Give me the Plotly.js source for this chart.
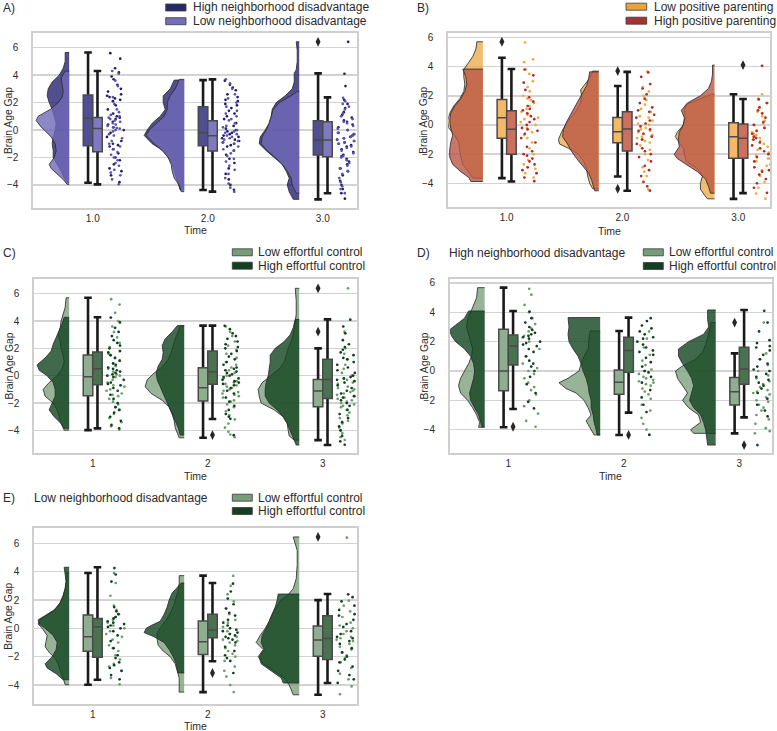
<!DOCTYPE html>
<html><head><meta charset="utf-8">
<script src="https://cdn.plot.ly/plotly-3.0.1.min.js"></script>
<style>html,body{margin:0;padding:0;background:#fff}#chart{width:777px;height:731px}</style>
</head><body><div id="chart"></div>
<script>
// ================= DATA =================
const timeLabelsAB = ['1.0', '2.0', '3.0'];
const timeLabelsCDE = ['1', '2', '3'];
const yTicks = [-4, -2, 0, 2, 4, 6];

// ---- Panel A : neighborhood disadvantage (High, Low) ----
const A_names = ['High neighborhood disadvantage', 'Low neighborhood disadvantage'];
// box stats per time: [lowerWhisker, q1, median, q3, upperWhisker]
const A_box_high = [[-3.84, -1.14, 0.85, 2.55, 5.65], [-4.37, -1.14, -0.19, 1.70, 3.64], [-5.05, -1.82, -0.73, 0.68, 4.13]];
const A_box_low = [[-3.96, -1.58, 0.12, 0.92, 4.30], [-4.49, -1.53, -0.41, 0.68, 3.69], [-4.60, -1.94, -0.73, 0.61, 2.38]];
const A_out_high = [[2, 6.43]];
const A_out_low = [];
// half-violin density profiles per time: [value, density]
const A_vio_high = [
  [[5.65,4],[5,4],[4.5,6],[4,10],[3.5,17],[3,21],[2.5,22],[2,20],[1.5,17],[1,15],[0.5,13],[0,14],[-0.5,16],[-1,17],[-1.5,16],[-2,16],[-2.5,12],[-3,8],[-3.5,5],[-3.84,2]],
  [[3.64,10],[3,14],[2.5,21],[2,21],[1.5,19],[1,24],[0.5,32],[0,37],[-0.4,40],[-1,32],[-1.5,21],[-2,16],[-2.5,12],[-3,10],[-3.5,8],[-4,6],[-4.37,4]],
  [[6.43,3],[5.8,2],[5,2],[4.4,3],[4.13,5],[3.5,5],[3,7],[2.5,14],[2,23],[1.5,27],[1,28],[0.5,30],[0,34],[-0.5,39],[-1,40],[-1.5,33],[-2,25],[-2.5,17],[-3,13],[-3.5,10],[-4,12],[-4.5,10],[-5.05,6]]
];
const A_vio_low = [
  [[4.3,4],[3.8,8],[3.3,7],[2.8,6],[2.4,7],[2,11],[1.5,19],[1,31],[0.7,33],[0.3,29],[0,25],[-0.5,18],[-1,14],[-1.5,13],[-2,15],[-2.5,20],[-2.8,18],[-3.2,12],[-3.6,6],[-3.96,2]],
  [[3.69,5],[3,9],[2.5,14],[2,17],[1.5,17],[1,20],[0.5,27],[0,35],[-0.4,38],[-1,30],[-1.5,22],[-2,16],[-2.5,13],[-3,12],[-3.5,10],[-4,5],[-4.49,3]],
  [[2.8,2],[2.5,8],[2,20],[1.5,26],[1,28],[0.5,30],[0,33],[-0.5,37],[-1,38],[-1.5,32],[-2,24],[-2.5,17],[-3,12],[-3.5,8],[-4,7],[-4.6,3]]
];
const A_pts_high = [
  [5.6,5.2,4.5,4.2,3.9,3.7,3.3,3.0,2.8,2.6,2.5,2.4,2.3,2.2,2.1,1.8,1.5,1.2,1.0,0.9,0.8,0.6,0.4,0.2,0.0,-0.2,-0.5,-0.8,-1.0,-1.1,-1.2,-1.4,-1.7,-2.0,-2.2,-2.5,-2.8,-3.0,-3.3,-3.8],
  [3.6,3.3,3.1,2.9,2.6,2.4,2.2,2.1,1.9,1.8,1.6,1.4,1.2,1.0,0.8,0.5,0.3,0.1,0.0,-0.1,-0.2,-0.3,-0.4,-0.5,-0.6,-0.7,-0.8,-0.9,-1.0,-1.1,-1.2,-1.5,-1.8,-2.1,-2.4,-2.8,-3.2,-3.6,-4.0,-4.35],
  [6.43,4.1,3.2,2.2,1.9,1.6,1.3,1.1,0.9,0.7,0.6,0.4,0.2,0.0,-0.2,-0.3,-0.4,-0.5,-0.6,-0.7,-0.8,-0.9,-1.0,-1.1,-1.2,-1.4,-1.6,-1.8,-1.9,-2.1,-2.3,-2.5,-2.8,-3.0,-3.3,-3.7,-4.0,-4.3,-4.6,-5.0]
];
const A_pts_low = [
  [4.3,4.1,3.6,3.2,2.4,1.9,1.5,1.3,1.1,1.0,0.9,0.8,0.7,0.6,0.5,0.4,0.3,0.2,0.15,0.1,0.0,-0.1,-0.3,-0.4,-0.6,-0.8,-1.0,-1.2,-1.4,-1.6,-1.8,-2.0,-2.2,-2.4,-2.6,-2.9,-3.1,-3.3,-3.6,-3.95],
  [3.7,3.4,3.0,2.6,2.3,2.0,1.7,1.4,1.2,1.0,0.8,0.7,0.5,0.3,0.2,0.0,-0.1,-0.2,-0.3,-0.4,-0.5,-0.6,-0.7,-0.8,-0.9,-1.0,-1.2,-1.4,-1.5,-1.7,-1.9,-2.1,-2.3,-2.6,-2.9,-3.2,-3.5,-3.9,-4.2,-4.5],
  [2.35,2.1,1.9,1.7,1.5,1.2,1.0,0.8,0.6,0.5,0.3,0.1,0.0,-0.2,-0.3,-0.4,-0.5,-0.6,-0.7,-0.8,-0.9,-1.0,-1.2,-1.3,-1.5,-1.7,-1.9,-2.0,-2.2,-2.4,-2.6,-2.8,-3.0,-3.2,-3.5,-3.8,-4.1,-4.3,-4.6]
];

// ---- Panel B : positive parenting (Low, High) ----
const B_names = ['Low positive parenting', 'High positive parenting'];
const B_box_low = [[-3.64, -0.91, 0.50, 1.75, 4.60], [-3.53, -1.21, -0.46, 0.52, 2.67], [-5.06, -2.28, -0.80, 0.16, 2.10]];
const B_box_high = [[-3.87, -2.00, -0.30, 0.98, 3.83], [-4.51, -1.78, -0.27, 0.91, 3.64], [-4.67, -2.28, -0.91, 0.07, 1.78]];
const B_out_low = [[0, 5.7], [1, 3.69], [1, -4.37]];
const B_out_high = [[2, 4.1]];
const B_vio_low = [
  [[5.7,6],[5.2,7],[4.7,10],[4.2,15],[3.8,19],[3.3,19],[2.8,18],[2.3,19],[1.8,23],[1.3,29],[0.8,33],[0.3,35],[-0.2,34],[-0.7,28],[-1.2,24],[-1.7,23],[-2.2,22],[-2.7,20],[-3.2,15],[-3.64,10]],
  [[3.69,6],[3.2,9],[2.7,15],[2.4,18],[2,17],[1.5,18],[1,22],[0.5,28],[0,33],[-0.5,37],[-1,40],[-1.3,39],[-1.6,30],[-2,20],[-2.5,15],[-3,12],[-3.5,11],[-4,9],[-4.37,6]],
  [[2.1,3],[1.8,14],[1.4,28],[1,30],[0.5,29],[0,31],[-0.5,37],[-0.8,39],[-1.2,35],[-1.6,31],[-2,30],[-2.5,28],[-3,17],[-3.5,12],[-4,14],[-4.4,14],[-4.8,10],[-5.06,7]]
];
const B_vio_high = [
  [[3.83,20],[3.3,17],[2.8,16],[2.3,18],[1.8,22],[1.3,28],[0.8,32],[0.3,33],[-0.2,32],[-0.7,30],[-1.2,32],[-1.7,33],[-2.2,33],[-2.7,30],[-3.2,22],[-3.6,14],[-3.87,12]],
  [[3.64,9],[3.2,10],[2.7,12],[2.2,16],[1.7,20],[1.2,24],[0.7,28],[0.2,32],[-0.3,35],[-0.8,36],[-1.3,31],[-1.8,27],[-2.3,22],[-2.8,16],[-3.3,10],[-3.8,7],[-4.51,4]],
  [[4.1,2],[3.5,2],[3,3],[2.5,6],[2,14],[1.5,27],[1,33],[0.5,30],[0,31],[-0.5,35],[-1,36],[-1.5,35],[-2,40],[-2.3,37],[-2.7,28],[-3.2,17],[-3.7,9],[-4.2,6],[-4.67,4]]
];
const B_pts_low = [
  [5.65,4.5,4.3,3.8,3.5,3.0,2.6,2.3,2.0,1.8,1.7,1.5,1.3,1.1,0.9,0.7,0.5,0.4,0.2,0.0,-0.2,-0.5,-0.7,-0.9,-1.2,-1.6,-2.0,-2.4,-2.7,-3.0,-3.3,-3.6],
  [3.65,2.6,2.3,2.0,1.7,1.4,1.1,0.9,0.6,0.5,0.3,0.1,0.0,-0.2,-0.3,-0.4,-0.5,-0.6,-0.7,-0.8,-0.9,-1.0,-1.1,-1.2,-1.4,-1.7,-2.0,-2.4,-2.9,-3.2,-3.5,-4.4],
  [2.1,1.8,1.5,1.2,0.9,0.6,0.3,0.1,0.0,-0.2,-0.4,-0.5,-0.6,-0.7,-0.8,-0.9,-1.0,-1.1,-1.3,-1.5,-1.7,-1.9,-2.1,-2.3,-2.5,-2.8,-3.1,-3.5,-3.9,-4.3,-4.7,-5.05]
];
const B_pts_high = [
  [3.8,3.4,2.9,2.4,1.9,1.6,1.3,1.1,1.0,0.8,0.6,0.4,0.2,0.0,-0.2,-0.3,-0.4,-0.6,-0.9,-1.2,-1.5,-1.8,-2.0,-2.1,-2.3,-2.5,-2.7,-2.9,-3.1,-3.3,-3.6,-3.85],
  [3.6,3.3,2.8,2.5,2.1,1.8,1.5,1.2,1.0,0.9,0.7,0.5,0.3,0.1,-0.1,-0.3,-0.4,-0.6,-0.8,-1.0,-1.3,-1.6,-1.8,-2.0,-2.2,-2.5,-2.8,-3.1,-3.5,-3.9,-4.2,-4.5],
  [4.05,1.75,1.5,1.2,1.0,0.8,0.5,0.2,0.0,-0.2,-0.4,-0.6,-0.8,-0.9,-1.0,-1.2,-1.4,-1.6,-1.8,-2.0,-2.2,-2.3,-2.5,-2.7,-2.9,-3.1,-3.2,-3.4,-3.7,-4.0,-4.3,-4.65]
];

// ---- Panels C, D, E : effortful control (Low, High) ----
const EC_names = ['Low effortful control', 'High effortful control'];
// C: all
const C_box_low = [[-3.98, -1.46, -0.07, 1.51, 5.70], [-4.54, -1.85, -0.88, 0.59, 3.66], [-4.71, -2.27, -1.12, -0.27, 2.00]];
const C_box_high = [[-3.85, -0.66, 0.51, 1.73, 4.27], [-3.17, -0.63, 0.29, 1.80, 3.66], [-5.07, -1.66, -0.27, 1.20, 4.12]];
const C_out_low = [[2, 3.22], [2, 6.39]];
const C_out_high = [[1, -4.34]];
const C_vio_low = [
  [[5.7,3],[5,4],[4.5,6],[4,8],[3.5,9],[3,11],[2.5,9],[2,8],[1.5,6],[1,5],[0.5,7],[0,12],[-0.5,20],[-1,26],[-1.5,24],[-2,16],[-2.5,12],[-3,10],[-3.5,8],[-3.98,5]],
  [[3.66,4],[3.2,6],[2.7,9],[2.2,11],[1.7,13],[1.2,16],[0.7,21],[0.2,30],[-0.3,37],[-0.8,39],[-1.3,33],[-1.8,22],[-2.3,15],[-2.8,12],[-3.3,10],[-3.8,9],[-4.2,7],[-4.54,5]],
  [[6.39,4],[5.5,3],[4.5,3],[4,4],[3.5,5],[3,6],[2.5,8],[2,11],[1.5,13],[1,15],[0.5,20],[0,28],[-0.5,37],[-1,41],[-1.5,40],[-2,38],[-2.5,25],[-3,16],[-3.5,12],[-4,11],[-4.4,10],[-4.71,5]]
];
const C_vio_high = [
  [[4.27,5],[3.8,7],[3.3,10],[2.8,13],[2.3,16],[1.8,18],[1.3,24],[0.8,32],[0.4,30],[0,22],[-0.5,16],[-1,14],[-1.5,14],[-2,17],[-2.5,20],[-3,15],[-3.5,8],[-3.85,5]],
  [[3.66,7],[3.2,12],[2.7,19],[2.2,22],[1.7,21],[1.2,22],[0.7,26],[0.2,28],[-0.3,27],[-0.8,24],[-1.3,21],[-1.8,18],[-2.3,15],[-2.8,12],[-3.3,9],[-3.8,6],[-4.34,4]],
  [[4.12,4],[3.5,6],[3,9],[2.5,15],[2,24],[1.5,29],[1,29],[0.5,30],[0,31],[-0.5,33],[-1,34],[-1.5,34],[-2,30],[-2.5,22],[-3,16],[-3.5,12],[-4,9],[-4.5,6],[-5.07,3]]
];
const C_pts_low = [
  [5.6,5.2,4.6,4.0,3.6,3.2,2.8,2.4,2.1,1.8,1.6,1.5,1.3,1.1,0.9,0.7,0.5,0.3,0.1,0.0,-0.1,-0.3,-0.5,-0.7,-0.8,-1.0,-1.1,-1.3,-1.4,-1.5,-1.7,-1.9,-2.1,-2.3,-2.5,-2.8,-3.1,-3.4,-3.7,-3.95],
  [3.6,3.2,2.9,2.5,2.2,1.9,1.6,1.3,1.0,0.8,0.6,0.4,0.2,0.0,-0.2,-0.4,-0.5,-0.6,-0.7,-0.8,-0.9,-1.0,-1.1,-1.2,-1.3,-1.4,-1.5,-1.6,-1.8,-1.9,-2.1,-2.3,-2.6,-2.9,-3.2,-3.5,-3.8,-4.1,-4.3,-4.5],
  [6.39,3.22,2.0,1.6,1.2,0.8,0.5,0.2,0.0,-0.2,-0.3,-0.5,-0.6,-0.8,-0.9,-1.0,-1.1,-1.2,-1.3,-1.4,-1.5,-1.6,-1.7,-1.8,-1.9,-2.0,-2.1,-2.2,-2.3,-2.5,-2.7,-2.9,-3.1,-3.3,-3.5,-3.8,-4.0,-4.2,-4.5,-4.7]
];
const C_pts_high = [
  [4.25,3.9,3.5,3.2,2.9,2.6,2.4,2.2,2.0,1.8,1.7,1.5,1.3,1.1,0.9,0.8,0.6,0.5,0.4,0.3,0.2,0.1,0.0,-0.1,-0.3,-0.5,-0.6,-0.7,-0.9,-1.1,-1.4,-1.7,-2.0,-2.3,-2.5,-2.7,-3.0,-3.3,-3.6,-3.85],
  [3.65,3.4,3.1,2.9,2.7,2.5,2.3,2.1,2.0,1.8,1.6,1.4,1.2,1.0,0.8,0.6,0.5,0.4,0.3,0.2,0.1,0.0,-0.1,-0.2,-0.3,-0.4,-0.5,-0.6,-0.7,-0.9,-1.1,-1.3,-1.6,-1.9,-2.2,-2.5,-2.8,-3.0,-3.15,-4.35],
  [4.1,3.6,3.1,2.6,2.3,2.1,1.9,1.7,1.5,1.3,1.2,1.0,0.8,0.6,0.4,0.2,0.0,-0.1,-0.2,-0.3,-0.4,-0.5,-0.7,-0.9,-1.1,-1.3,-1.5,-1.6,-1.8,-2.0,-2.2,-2.5,-2.8,-3.1,-3.4,-3.7,-4.0,-4.4,-4.8,-5.05]
];

// D: high neighborhood disadvantage
const D_subtitle = 'High neighborhood disadvantage';
const D_box_low = [[-3.84, -1.34, 0.00, 2.84, 5.68], [-4.36, -1.59, -0.77, 0.07, 2.73], [-4.25, -2.32, -1.41, -0.45, 1.20]];
const D_box_high = [[-2.59, 0.41, 1.70, 2.45, 4.09], [-2.84, -0.09, 1.39, 2.30, 3.64], [-3.16, -0.91, 0.14, 1.61, 4.16]];
const D_out_low = [[2, 3.3]];
const D_out_high = [[0, -3.8], [1, -4.36], [2, -5.05]];
const D_vio_low = [
  [[5.68,7],[5,8],[4.5,11],[4,14],[3.5,17],[3,18],[2.5,16],[2,14],[1.5,12],[1,13],[0.5,16],[0,20],[-0.5,24],[-1,26],[-1.5,24],[-2,17],[-2.5,12],[-3,8],[-3.5,5],[-3.84,6]],
  [[2.73,10],[2.3,11],[1.5,12],[1,16],[0.5,19],[0,21],[-0.5,32],[-0.8,41],[-1.2,34],[-1.5,24],[-2,16],[-2.5,12],[-3,9],[-3.4,14],[-3.8,11],[-4.36,6]],
  [[3.3,5],[2.8,6],[2.3,8],[1.8,10],[1.3,13],[0.8,20],[0.3,34],[0,40],[-0.5,38],[-1,33],[-1.5,28],[-2,33],[-2.5,27],[-3,17],[-3.5,15],[-4,25],[-4.25,22]]
];
const D_vio_high = [
  [[4.09,16],[3.6,20],[3.2,27],[2.8,35],[2.4,33],[2,29],[1.5,20],[1,14],[0.5,11],[0,10],[-0.5,11],[-1,13],[-1.5,15],[-2,14],[-2.5,10],[-3,6],[-3.5,4],[-3.8,3]],
  [[3.64,32],[3,31],[2.5,32],[2,31],[1.5,27],[1,22],[0.5,19],[0,17],[-0.5,14],[-1,12],[-1.5,11],[-2,9],[-2.5,9],[-3,7],[-3.5,6],[-4,4],[-4.36,3]],
  [[4.16,8],[3.5,8],[3,7],[2.5,12],[2,27],[1.5,37],[1,37],[0.5,33],[0,28],[-0.5,24],[-1,22],[-1.5,24],[-2,26],[-2.5,22],[-3,15],[-3.5,12],[-4,10],[-4.5,9],[-5.05,8]]
];
const D_pts_low = [
  [5.6,5.2,4.5,4.0,3.6,3.2,2.9,2.7,2.4,2.0,1.5,1.0,0.5,0.2,0.0,-0.2,-0.5,-0.8,-1.1,-1.3,-1.6,-2.0,-2.4,-2.9,-3.4,-3.8],
  [2.7,2.2,1.6,1.1,0.7,0.4,0.1,0.0,-0.2,-0.4,-0.5,-0.6,-0.7,-0.8,-0.9,-1.0,-1.2,-1.4,-1.6,-1.9,-2.3,-2.7,-3.2,-3.6,-4.0,-4.35],
  [3.3,1.2,0.8,0.4,0.0,-0.3,-0.5,-0.7,-0.9,-1.1,-1.3,-1.4,-1.5,-1.6,-1.8,-2.0,-2.1,-2.3,-2.5,-2.7,-3.0,-3.3,-3.6,-3.9,-4.1,-4.25]
];
const D_pts_high = [
  [4.05,3.6,3.3,3.0,2.8,2.6,2.5,2.4,2.3,2.2,2.0,1.9,1.8,1.7,1.5,1.3,1.0,0.7,0.5,0.3,0.0,-0.4,-0.9,-1.5,-2.1,-2.55],
  [3.6,3.4,3.1,2.9,2.7,2.5,2.3,2.2,2.0,1.8,1.6,1.4,1.3,1.1,0.9,0.6,0.3,0.0,-0.1,-0.4,-0.8,-1.3,-1.8,-2.3,-2.8,-4.35],
  [4.1,3.3,2.7,2.1,1.9,1.7,1.6,1.4,1.1,0.8,0.5,0.3,0.1,0.0,-0.2,-0.4,-0.6,-0.8,-1.0,-1.2,-1.5,-1.9,-2.3,-2.7,-3.1,-5.05]
];

// E: low neighborhood disadvantage
const E_subtitle = 'Low neighborhood disadvantage';
const E_box_low = [[-3.98, -1.61, -0.59, 0.95, 3.91], [-4.50, -1.85, -0.95, 0.52, 3.72], [-4.69, -1.97, -0.83, 0.17, 1.99]];
const E_box_high = [[-3.63, -2.04, 0.12, 0.69, 4.31], [-2.32, -0.66, -0.12, 1.00, 3.20], [-3.86, -2.20, -0.71, 0.88, 2.42]];
const E_out_low = [[2, 6.45]];
const E_out_high = [[1, -3.15]];
const E_vio_low = [
  [[3.91,3],[3.3,3],[2.8,4],[2.3,6],[1.8,9],[1.3,14],[0.9,22],[0.6,29],[0.3,31],[0,27],[-0.5,22],[-1,23],[-1.3,24],[-1.7,20],[-2.1,14],[-2.5,11],[-3,9],[-3.5,6],[-3.98,4]],
  [[3.72,5],[3.2,5],[2.7,6],[2.2,8],[1.7,10],[1.2,13],[0.7,17],[0.2,22],[-0.3,27],[-0.8,27],[-1.2,26],[-1.6,21],[-2,14],[-2.5,9],[-3,7],[-3.5,5],[-4,5],[-4.5,5]],
  [[6.45,6],[5.5,2],[4.5,2],[3.5,3],[2.8,6],[2.3,12],[2,18],[1.5,23],[1,27],[0.5,30],[0,34],[-0.5,39],[-1,43],[-1.5,36],[-2,41],[-2.5,36],[-3,25],[-3.5,15],[-4,10],[-4.69,6]]
];
const E_vio_high = [
  [[4.31,5],[3.8,4],[3.3,3],[2.8,4],[2.3,6],[1.8,9],[1.3,15],[0.9,24],[0.6,31],[0.3,30],[0,24],[-0.5,16],[-1,12],[-1.5,13],[-2,17],[-2.5,24],[-2.8,22],[-3.2,13],[-3.63,6]],
  [[3.2,3],[2.8,8],[2.5,12],[2,15],[1.5,17],[1,20],[0.5,24],[0.2,33],[0,38],[-0.3,40],[-0.6,30],[-1,20],[-1.5,15],[-2,11],[-2.5,8],[-3.15,6]],
  [[2.42,21],[2,22],[1.5,24],[1,27],[0.5,30],[0,33],[-0.5,37],[-1,38],[-1.5,35],[-2,40],[-2.5,38],[-3,28],[-3.5,18],[-3.86,16]]
];
const E_pts_low = [
  [3.9,3.2,2.3,1.6,1.3,1.0,0.8,0.6,0.4,0.2,0.0,-0.2,-0.4,-0.6,-0.8,-1.0,-1.2,-1.4,-1.6,-1.9,-2.2,-2.5,-2.7,-3.0,-3.5,-3.95],
  [3.7,3.0,2.4,1.9,1.4,1.0,0.6,0.4,0.1,-0.2,-0.4,-0.6,-0.8,-0.9,-1.0,-1.2,-1.4,-1.6,-1.8,-2.0,-2.3,-2.7,-3.0,-3.4,-4.0,-4.5],
  [6.4,1.95,1.6,1.2,0.8,0.4,0.2,0.0,-0.2,-0.4,-0.6,-0.7,-0.8,-0.9,-1.1,-1.3,-1.5,-1.7,-1.9,-2.1,-2.4,-2.8,-3.2,-3.6,-4.1,-4.65]
];
const E_pts_high = [
  [4.25,3.8,3.3,1.5,1.2,1.0,0.8,0.7,0.5,0.4,0.3,0.2,0.1,0.0,-0.2,-0.5,-0.9,-1.4,-1.9,-2.1,-2.4,-2.6,-2.8,-3.0,-3.3,-3.6],
  [3.15,2.6,2.1,1.7,1.4,1.1,0.9,0.6,0.4,0.2,0.0,-0.1,-0.2,-0.3,-0.4,-0.5,-0.6,-0.7,-0.8,-1.0,-1.3,-1.6,-1.9,-2.1,-2.3,-3.15],
  [2.4,2.2,1.9,1.6,1.3,1.0,0.9,0.6,0.3,0.1,-0.2,-0.4,-0.6,-0.7,-0.9,-1.1,-1.4,-1.7,-2.0,-2.2,-2.4,-2.7,-3.0,-3.3,-3.6,-3.85]
];

// ================= STYLE / LAYOUT =================
const W = 777, H = 731;
const FONT = 'Liberation Sans, Arial, Helvetica, sans-serif';
const TXT = '#2b2b2b';
const VIO_EDGE = -0.205, BOX_OFF = 0.041, BOX_W = 0.083, WHISK_W = 0.066, PTS_OFF = 0.2, PTS_W = 0.17, DENS = 1 / 115;

const PAL_A = {vio: ['rgba(34,28,110,0.78)', 'rgba(111,105,185,0.8)'], box: ['#524e92', '#7f7ac0'], pts: ['#221d6b', '#5953aa'], sw: ['#2a2766', '#7570bb']};
const PAL_B = {vio: ['rgba(236,174,79,0.8)', 'rgba(186,86,69,0.8)'], box: ['#f4b866', '#cd6f5f'], pts: ['#ecaa3c', '#b3262a'], sw: ['#e9a43c', '#a83232']};
const PAL_G = {vio: ['rgba(125,161,125,0.8)', 'rgba(18,67,31,0.8)'], box: ['#8fae8f', '#4a7150'], pts: ['#6b9d6b', '#0f3f1e'], sw: ['#789c78', '#143f22']};

const px = x => x / W, py = y => 1 - y / H;

function violin(prof, color, xa, ya) {
  const xs = [], ys = [];
  prof.forEach((p, t) => {
    const edge = t + VIO_EDGE;
    xs.push(edge); ys.push(p[0][0]);
    p.forEach(([v, d]) => { xs.push(edge - d * DENS); ys.push(v); });
    xs.push(edge); ys.push(p[p.length - 1][0]);
    xs.push(null); ys.push(null);
  });
  return {type: 'scatter', mode: 'lines', x: xs, y: ys, fill: 'toself', fillcolor: color,
    line: {color: 'rgba(45,45,45,0.85)', width: 1}, xaxis: xa, yaxis: ya, hoverinfo: 'skip', showlegend: false};
}
function whiskers(stats, off, xa, ya) {
  return {type: 'box', x: stats.map((s, t) => t + off), q1: stats.map(s => s[2]), median: stats.map(s => s[2]),
    q3: stats.map(s => s[2]), lowerfence: stats.map(s => s[0]), upperfence: stats.map(s => s[4]),
    width: WHISK_W, whiskerwidth: 1, fillcolor: 'rgba(0,0,0,0)', line: {color: '#1a1a1a', width: 2.6},
    boxpoints: false, xaxis: xa, yaxis: ya, hoverinfo: 'skip', showlegend: false};
}
function boxes(stats, off, color, xa, ya) {
  return {type: 'box', x: stats.map((s, t) => t + off), q1: stats.map(s => s[1]), median: stats.map(s => s[2]),
    q3: stats.map(s => s[3]), lowerfence: stats.map(s => s[1]), upperfence: stats.map(s => s[3]),
    width: BOX_W, whiskerwidth: 0, fillcolor: color, line: {color: '#4a4a4a', width: 1.5},
    boxpoints: false, xaxis: xa, yaxis: ya, hoverinfo: 'skip', showlegend: false};
}
function outliers(list, off, xa, ya) {
  return {type: 'scatter', mode: 'markers', x: list.map(o => o[0] + off), y: list.map(o => o[1]),
    marker: {symbol: 'diamond-tall', size: 7, color: '#262626'}, xaxis: xa, yaxis: ya, hoverinfo: 'skip', showlegend: false};
}
function strip(pts, color, xa, ya) {
  const xs = [], ys = [];
  pts.forEach((vals, t) => vals.forEach(v => { xs.push(t + PTS_OFF); ys.push(v); }));
  return {type: 'box', x: xs, y: ys, width: PTS_W, boxpoints: 'all', jitter: 1, pointpos: 0,
    fillcolor: 'rgba(0,0,0,0)', line: {width: 0, color: 'rgba(0,0,0,0)'}, whiskerwidth: 0,
    marker: {color: color, size: 2.7}, xaxis: xa, yaxis: ya, hoverinfo: 'skip', showlegend: false};
}

const traces = [];
function panel(xa, ya, pal, vio1, vio2, box1, box2, out1, out2, pts1, pts2) {
  traces.push(violin(vio1, pal.vio[0], xa, ya), violin(vio2, pal.vio[1], xa, ya));
  traces.push(whiskers(box1, -BOX_OFF, xa, ya), whiskers(box2, BOX_OFF, xa, ya));
  traces.push(boxes(box1, -BOX_OFF, pal.box[0], xa, ya), boxes(box2, BOX_OFF, pal.box[1], xa, ya));
  traces.push(strip(pts1, pal.pts[0], xa, ya), strip(pts2, pal.pts[1], xa, ya));
  traces.push(outliers(out1, -BOX_OFF, xa, ya), outliers(out2, BOX_OFF, xa, ya));
}
panel('x', 'y', PAL_A, A_vio_high, A_vio_low, A_box_high, A_box_low, A_out_high, A_out_low, A_pts_high, A_pts_low);
panel('x2', 'y2', PAL_B, B_vio_low, B_vio_high, B_box_low, B_box_high, B_out_low, B_out_high, B_pts_low, B_pts_high);
panel('x3', 'y3', PAL_G, C_vio_low, C_vio_high, C_box_low, C_box_high, C_out_low, C_out_high, C_pts_low, C_pts_high);
panel('x4', 'y4', PAL_G, D_vio_low, D_vio_high, D_box_low, D_box_high, D_out_low, D_out_high, D_pts_low, D_pts_high);
panel('x5', 'y5', PAL_G, E_vio_low, E_vio_high, E_box_low, E_box_high, E_out_low, E_out_high, E_pts_low, E_pts_high);

// panel geometry in pixels: [x0, x1, y0(top), y1(bottom)], axis ranges
const GEO = [
  {px: [33.3, 357.3, 33, 208], xr: [-0.517, 2.30], yr: [-5.68, 7.07], lab: timeLabelsAB},
  {px: [448.3, 770, 33.3, 207.3], xr: [-0.504, 2.274], yr: [-5.64, 6.28], lab: timeLabelsAB},
  {px: [34.3, 357.3, 279.3, 452.7], xr: [-0.508, 2.30], yr: [-5.63, 7.05], lab: timeLabelsCDE},
  {px: [450, 771.7, 279.3, 452.7], xr: [-0.505, 2.28], yr: [-5.57, 6.25], lab: timeLabelsCDE},
  {px: [34.3, 357.3, 528.3, 704.3], xr: [-0.508, 2.30], yr: [-5.36, 7.06], lab: timeLabelsCDE}
];

const layout = {
  width: W, height: H, margin: {l: 0, r: 0, t: 0, b: 0}, paper_bgcolor: '#fff', plot_bgcolor: '#fff',
  showlegend: false, boxmode: 'overlay', boxgap: 0, boxgroupgap: 0,
  font: {family: FONT, color: TXT, size: 11},
  annotations: [], shapes: []
};
GEO.forEach((g, i) => {
  const sx = i === 0 ? '' : String(i + 1);
  layout['xaxis' + sx] = {domain: [px(g.px[0]), px(g.px[1])], range: g.xr, anchor: 'y' + sx,
    tickvals: [0, 1, 2], ticktext: g.lab, showgrid: false, zeroline: false, showline: true, mirror: true,
    linecolor: '#cfcfcf', linewidth: 2, ticks: '', tickfont: {size: 10, color: TXT, family: FONT}, fixedrange: true};
  layout['yaxis' + sx] = {domain: [py(g.px[3]), py(g.px[2])], range: g.yr, anchor: 'x' + sx,
    tickvals: yTicks, showgrid: true, gridcolor: '#d3d3d3', gridwidth: 1.5, zeroline: false,
    showline: true, mirror: true, linecolor: '#cfcfcf', linewidth: 2, ticks: 'outside', ticklen: 11,
    tickcolor: 'rgba(0,0,0,0)', tickfont: {size: 10, color: TXT, family: FONT}, fixedrange: true};
});

function ann(text, x, y, opts) {
  layout.annotations.push(Object.assign({text: text, x: px(x), y: py(y), xref: 'paper', yref: 'paper',
    showarrow: false, xanchor: 'left', yanchor: 'middle', borderpad: 0, font: {size: 12, color: TXT, family: FONT}}, opts || {}));
}
// axis titles
const yTitleX = [8.5, 423.5, 8.5, 423.5, 8.5];
const timeY = [230.5, 231, 475.5, 476, 726];
GEO.forEach((g, i) => {
  ann('Brain Age Gap', yTitleX[i], (g.px[2] + g.px[3]) / 2, {textangle: -90, xanchor: 'center', font: {size: 10.3, color: TXT, family: FONT}});
  ann('Time', (g.px[0] + g.px[1]) / 2, timeY[i], {xanchor: 'center', font: {size: 10.5, color: TXT, family: FONT}});
});
// panel labels
ann('A)', 2, 8); ann('B)', 416, 8); ann('C)', 2, 253); ann('D)', 416, 253); ann('E)', 2, 498);
ann(D_subtitle, 447.5, 253); ann(E_subtitle, 32.5, 498);

// legends (swatch + text)
function legend(names, colors, x0, x1, rows, tx) {
  names.forEach((n, k) => {
    layout.shapes.push({type: 'rect', xref: 'paper', yref: 'paper', x0: px(x0), x1: px(x1),
      y0: py(rows[k] + 3.5), y1: py(rows[k] - 3.5), fillcolor: colors[k], line: {color: '#3a3a3a', width: 0.8}});
    ann(n, tx, rows[k]);
  });
}
legend(A_names, PAL_A.sw, 165.7, 186, [7.5, 21.2], 191.5);
legend(B_names, PAL_B.sw, 626, 646.7, [6.7, 20.7], 653);
legend(EC_names, PAL_G.sw, 232.3, 252.3, [252.3, 265.7], 256.5);
legend(EC_names, PAL_G.sw, 643.3, 663.3, [252.3, 266], 668);
legend(EC_names, PAL_G.sw, 232.3, 252.3, [497.7, 511], 256.5);

Plotly.newPlot('chart', traces, layout, {displayModeBar: false, staticPlot: true});
</script>
</body></html>
